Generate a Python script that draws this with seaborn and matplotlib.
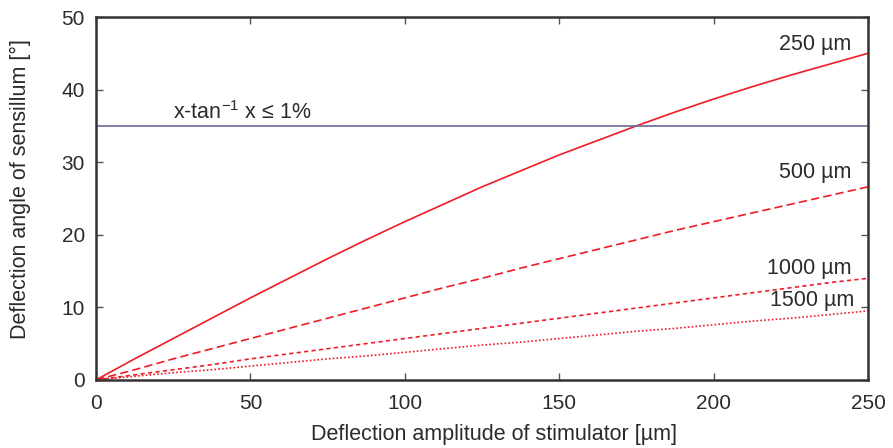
import numpy as np
import pandas as pd
import seaborn as sns
import matplotlib.pyplot as plt

# deflection amplitude of stimulator [um]
amplitude = [0, 12.5, 25, 37.5, 50, 62.5, 75, 87.5, 100, 112.5, 125,
             137.5, 150, 162.5, 175, 187.5, 200, 212.5, 225, 237.5, 250]
# deflection angle of sensillum [deg] for each hair length
angle_250 = [0, 2.9, 5.7, 8.5, 11.3, 14.0, 16.7, 19.3, 21.8, 24.2, 26.6,
             28.8, 31.0, 33.0, 35.0, 36.9, 38.7, 40.4, 42.0, 43.5, 45.0]
angle_500 = [0, 1.4, 2.9, 4.3, 5.7, 7.1, 8.5, 9.9, 11.3, 12.7, 14.0,
             15.4, 16.7, 18.0, 19.3, 20.6, 21.8, 23.0, 24.2, 25.4, 26.6]
angle_1000 = [0, 0.7, 1.4, 2.1, 2.9, 3.6, 4.3, 5.0, 5.7, 6.4, 7.1,
              7.8, 8.5, 9.2, 9.9, 10.6, 11.3, 12.0, 12.7, 13.4, 14.0]
angle_1500 = [0, 0.5, 1.0, 1.4, 1.9, 2.4, 2.9, 3.3, 3.8, 4.3, 4.8,
              5.2, 5.7, 6.2, 6.7, 7.1, 7.6, 8.1, 8.5, 9.0, 9.5]
lengths = ['250 µm', '500 µm', '1000 µm', '1500 µm']
threshold = 35

sns.set_theme(style='ticks')
plt.rcParams['font.family'] = ['Liberation Sans', 'DejaVu Sans']
txt = '#2b2b2b'

df = pd.DataFrame({
    'amp': amplitude * 4,
    'angle': angle_250 + angle_500 + angle_1000 + angle_1500,
    'length': np.repeat(lengths, len(amplitude)),
})

fig = plt.figure(figsize=(8.93, 4.48), dpi=100)
ax = fig.add_axes([0.1075, 0.152, 0.8645, 0.81])

styles = {'250 µm': '-', '500 µm': (0, (5, 2.5)), '1000 µm': (0, (2.5, 2)), '1500 µm': (0, (1, 1.3))}
for name in lengths:
    sub = df[df['length'] == name]
    sns.lineplot(data=sub, x='amp', y='angle', ax=ax, color='#ee1c25',
                 linewidth=1.2, linestyle=styles[name], legend=False)

ax.axhline(threshold, color='#6b6b96', linewidth=1.2)

fs = 15.5
ax.set_xlim(0, 250)
ax.set_ylim(0, 50)
ax.set_xticks([0, 50, 100, 150, 200, 250])
ax.set_yticks([0, 10, 20, 30, 40, 50])
ax.set_xlabel('Deflection amplitude of stimulator [µm]', fontsize=fs, color=txt)
ax.set_ylabel('Deflection angle of sensillum [°]', fontsize=fs, color=txt)
ax.xaxis.set_label_coords(0.516, -0.122)
ax.yaxis.set_label_coords(-0.084, 0.527)
ax.tick_params(direction='in', length=5, width=1, colors='#555555',
               labelcolor=txt, labelsize=15, top=True, right=True)
ax.tick_params(axis='x', pad=10)
ax.tick_params(axis='y', pad=8)
for s in ax.spines.values():
    s.set_color('#333333')
    s.set_linewidth(1.8)

ax.text(47.5, 36.8, r'x-tan$^{\mathregular{-1}}$ x ≤ 1%', fontsize=fs, color=txt,
        ha='center', va='center')
ax.text(233, 46.2, '250 µm', fontsize=fs, color=txt, ha='center', va='center')
ax.text(233, 28.6, '500 µm', fontsize=fs, color=txt, ha='center', va='center')
ax.text(231, 15.4, '1000 µm', fontsize=fs, color=txt, ha='center', va='center')
ax.text(232, 10.9, '1500 µm', fontsize=fs, color=txt, ha='center', va='center')

fig.savefig('out.png', dpi=100)
